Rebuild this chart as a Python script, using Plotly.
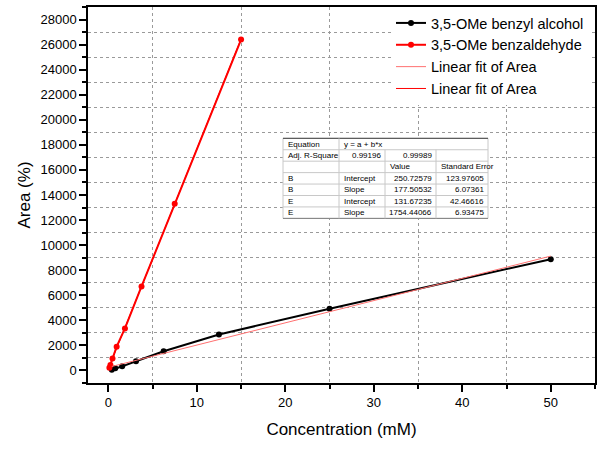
import plotly.graph_objects as go

# ---- data ----
alcohol_conc = [0.39, 0.78, 1.5625, 3.125, 6.25, 12.5, 25, 50]
alcohol_area = [60, 170, 330, 740, 1530, 2870, 4930, 8880]
aldehyde_conc = [0.117, 0.234, 0.469, 0.9375, 1.875, 3.75, 7.5, 15]
aldehyde_area = [220, 430, 950, 1900, 3350, 6700, 13300, 26400]

fit_intercepts = [250.72579, 131.67235]
fit_slopes = [177.50532, 1754.44066]
fit_intercept_err = [123.97605, 42.46616]
fit_slope_err = [6.07361, 6.93475]
adj_r2 = [0.99196, 0.99989]

series_names = ["3,5-OMe benzyl alcohol", "3,5-OMe benzaldehyde"]
fit_name = "Linear fit of Area"
x_title = "Concentration (mM)"
y_title = "Area (%)"

fig = go.Figure()

fig.add_trace(go.Scatter(x=alcohol_conc, y=alcohol_area, mode="lines+markers",
                         name=series_names[0], legendgroup="a",
                         line=dict(color="black", width=2),
                         marker=dict(color="black", size=6, symbol="circle")))
fig.add_trace(go.Scatter(x=aldehyde_conc, y=aldehyde_area, mode="lines+markers",
                         name=series_names[1], legendgroup="b",
                         line=dict(color="red", width=2),
                         marker=dict(color="red", size=6, symbol="circle")))

# fit lines from table parameters
fx1 = [min(alcohol_conc), max(alcohol_conc)]
fy1 = [fit_intercepts[0] + fit_slopes[0] * v for v in fx1]
fx2 = [min(aldehyde_conc), max(aldehyde_conc)]
fy2 = [fit_intercepts[1] + fit_slopes[1] * v for v in fx2]
fig.add_trace(go.Scatter(x=fx1, y=fy1, mode="lines", name=fit_name, legendgroup="c",
                         line=dict(color="#ff7070", width=1)))
fig.add_trace(go.Scatter(x=fx2, y=fy2, mode="lines", name=fit_name, legendgroup="d",
                         line=dict(color="#ff0000", width=1)))

# ---- layout geometry (pixels) ----
W, H = 604, 450
L, R, T, B = 88, 595, 5, 383


def px(x):
    return (x - L) / (R - L)


def py(y):
    return (B - y) / (B - T)


font_family = "Liberation Sans, Arial, sans-serif"

# ---- inset table ----
table_rows = [
    ["Equation", "y = a + b*x", "", ""],
    ["Adj. R-Square", f"{adj_r2[0]:.5f}", f"{adj_r2[1]:.5f}", ""],
    ["", "", "Value", "Standard Error"],
    ["B", "Intercept", f"{fit_intercepts[0]:.5f}", f"{fit_intercept_err[0]:.5f}"],
    ["B", "Slope", f"{fit_slopes[0]:.5f}", f"{fit_slope_err[0]:.5f}"],
    ["E", "Intercept", f"{fit_intercepts[1]:.5f}", f"{fit_intercept_err[1]:.5f}"],
    ["E", "Slope", f"{fit_slopes[1]:.5f}", f"{fit_slope_err[1]:.5f}"],
]
col_edges = [283, 339, 385, 436, 488]
row_top = 137
row_h = 11.5
nrows = len(table_rows)
row_bottom = row_top + nrows * row_h

shapes = []
annotations = []
shapes.append(dict(type="rect", xref="paper", yref="paper",
                   x0=px(col_edges[0]), x1=px(col_edges[-1]),
                   y0=py(row_bottom), y1=py(row_top),
                   fillcolor="white", line=dict(color="#c8c8c8", width=1), layer="above"))
for i in range(1, nrows):
    yy = row_top + i * row_h
    shapes.append(dict(type="line", xref="paper", yref="paper",
                       x0=px(col_edges[0]), x1=px(col_edges[-1]), y0=py(yy), y1=py(yy),
                       line=dict(color="#c8c8c8", width=1)))
# top border dark
shapes.append(dict(type="line", xref="paper", yref="paper",
                   x0=px(col_edges[0]), x1=px(col_edges[-1]), y0=py(row_top), y1=py(row_top),
                   line=dict(color="#404040", width=1)))
shapes.append(dict(type="line", xref="paper", yref="paper",
                   x0=px(col_edges[0]), x1=px(col_edges[-1]), y0=py(row_bottom), y1=py(row_bottom),
                   line=dict(color="#808080", width=1)))
# vertical lines
shapes.append(dict(type="line", xref="paper", yref="paper",
                   x0=px(col_edges[1]), x1=px(col_edges[1]), y0=py(row_bottom), y1=py(row_top),
                   line=dict(color="#c8c8c8", width=1)))
for c in (2, 3):
    shapes.append(dict(type="line", xref="paper", yref="paper",
                       x0=px(col_edges[c]), x1=px(col_edges[c]), y0=py(row_bottom), y1=py(row_top + row_h),
                       line=dict(color="#c8c8c8", width=1)))

for r, row in enumerate(table_rows):
    yc = row_top + (r + 0.5) * row_h
    for c, txt in enumerate(row):
        if not txt:
            continue
        numeric = txt.replace(".", "").isdigit()
        if numeric:
            xa, xanchor = col_edges[c + 1] - 2, "right"
        else:
            xa, xanchor = col_edges[c] + 3, "left"
        annotations.append(dict(text=txt, xref="paper", yref="paper", x=px(xa), y=py(yc),
                                xanchor=xanchor, yanchor="middle", showarrow=False,
                                font=dict(size=8, color="black", family=font_family)))

axis_common = dict(showline=True, linecolor="black", linewidth=1.5, mirror=True,
                   ticks="outside", ticklen=7, tickwidth=1.5, tickcolor="black",
                   showgrid=False, zeroline=False, tickformat="d",
                   tickfont=dict(size=13, color="black", family=font_family))

grid_color = "#9a9a9a"

fig.update_layout(
    width=W, height=H,
    margin=dict(l=L, r=W - R, t=T, b=H - B),
    paper_bgcolor="white", plot_bgcolor="white",
    font=dict(family=font_family, color="black"),
    xaxis=dict(**axis_common, range=[-2.3, 55], tick0=0, dtick=10,
               title=dict(text=x_title, font=dict(size=17), standoff=14),
               minor=dict(dtick=5, tick0=0, ticks="outside", ticklen=4, tickcolor="black",
                          showgrid=True, gridcolor=grid_color, griddash="dot", gridwidth=1)),
    yaxis=dict(**axis_common, range=[-1000, 29000], tick0=0, dtick=2000,
               title=dict(text=y_title, font=dict(size=17), standoff=6),
               minor=dict(dtick=1000, tick0=0, ticks="outside", ticklen=4, tickcolor="black",
                          showgrid=True, gridcolor=grid_color, griddash="dot", gridwidth=1)),
    legend=dict(x=px(589), xanchor="right", y=1.0, yanchor="top",
                bgcolor="white", borderwidth=0, tracegroupgap=0,
                font=dict(size=14.5, color="black", family=font_family)),
    shapes=shapes,
    annotations=annotations,
)

fig.write_html("out.html")
